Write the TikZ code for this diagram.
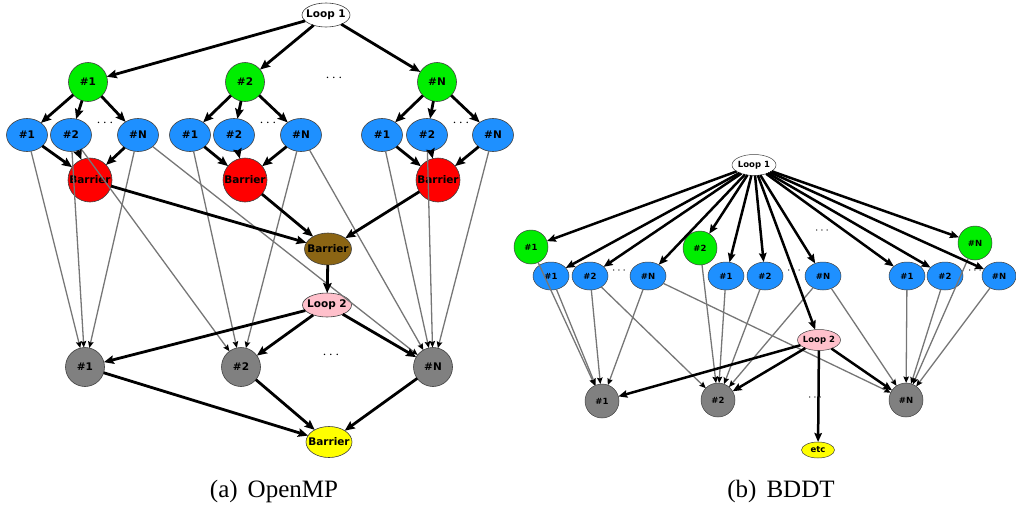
\documentclass[tikz,border=0pt]{standalone}
\usepackage{fontspec}
\setmainfont{Liberation Serif}
\setsansfont{DejaVu Sans}
\usetikzlibrary{arrows.meta,shapes.geometric}
\definecolor{gGreen}{RGB}{0,238,0}
\definecolor{gBlue}{RGB}{30,144,255}
\definecolor{gRed}{RGB}{255,0,0}
\definecolor{gBrown}{RGB}{139,101,20}
\definecolor{gPink}{RGB}{255,192,203}
\definecolor{gGray}{RGB}{128,128,128}
\definecolor{gYellow}{RGB}{255,255,0}
\definecolor{edgeGray}{RGB}{118,118,118}
\newcommand\nlab[1]{\makebox[0pt][c]{#1}}
\begin{document}
\begin{tikzpicture}[x=1pt,y=-1pt,
  every node/.style={inner sep=0pt,outer sep=0pt},
  lnode/.style={draw=black!75,line width=0.6pt,font=\sffamily\bfseries\fontsize{10.5}{12}\selectfont},
  rnode/.style={draw=black!75,line width=0.5pt,font=\sffamily\bfseries\fontsize{8.5}{10}\selectfont},
  lcirc/.style={lnode,circle,minimum size=39pt},
  lell/.style={lnode,ellipse,minimum width=41pt,minimum height=33pt,fill=gBlue},
  rcirc/.style={rnode,circle,minimum size=34pt},
  rell/.style={rnode,ellipse,minimum width=36pt,minimum height=28pt,fill=gBlue},
  dotsl/.style={font=\fontsize{15}{16}\selectfont},
  dotsr/.style={font=\fontsize{12}{13}\selectfont},
  thickl/.style={line width=2.8pt,-{Stealth[length=10pt,width=8.5pt,inset=1.5pt]}},
  thickr/.style={line width=2.5pt,-{Stealth[length=9pt,width=7.5pt,inset=1.3pt]}},
  thin/.style={draw=edgeGray,line width=1.3pt,-{Stealth[length=6.5pt,width=5.5pt,inset=1pt,color=black]}},
  caption/.style={font=\fontsize{25}{30}\selectfont}
]
\useasboundingbox (0,0) rectangle (1016,506);

% ---------------- Left graph (OpenMP) ----------------
\node[lnode,ellipse,minimum width=48pt,minimum height=24pt,fill=white] (L1) at (326,15) {\nlab{Loop 1}};
\node[lcirc,fill=gGreen] (G1) at (88,82) {\nlab{\#1}};
\node[lcirc,fill=gGreen] (G2) at (245,82) {\nlab{\#2}};
\node[lcirc,fill=gGreen] (GN) at (437,82) {\nlab{\#N}};
\node[dotsl] (dG) at (334,78) {$\cdots$};

\node[lell] (a1) at (27,135) {\nlab{\#1}};
\node[lell] (a2) at (71,135) {\nlab{\#2}};
\node[lell] (aN) at (138,135) {\nlab{\#N}};
\node[lell] (b1) at (190,135) {\nlab{\#1}};
\node[lell] (b2) at (234,135) {\nlab{\#2}};
\node[lell] (bN) at (301,135) {\nlab{\#N}};
\node[lell] (c1) at (382,135) {\nlab{\#1}};
\node[lell] (c2) at (427,135) {\nlab{\#2}};
\node[lell] (cN) at (493,135) {\nlab{\#N}};
\node[dotsl] (da) at (105,123) {$\cdots$};
\node[dotsl] (db) at (268,123) {$\cdots$};
\node[dotsl] (dc) at (461,123) {$\cdots$};

\node[lnode,circle,minimum size=44pt,fill=gRed] (R1) at (90,180) {\nlab{Barrier}};
\node[lnode,circle,minimum size=44pt,fill=gRed] (R2) at (245,180) {\nlab{Barrier}};
\node[lnode,circle,minimum size=44pt,fill=gRed] (R3) at (438,180) {\nlab{Barrier}};

\node[lnode,ellipse,minimum width=47pt,minimum height=32pt,fill=gBrown] (Br) at (328,249) {\nlab{Barrier}};
\node[lnode,ellipse,minimum width=49pt,minimum height=24pt,fill=gPink] (Lp2) at (327,305) {\nlab{Loop 2}};

\node[lcirc,fill=gGray] (K1) at (85,367) {\nlab{\#1}};
\node[lcirc,fill=gGray] (K2) at (241,367) {\nlab{\#2}};
\node[lcirc,fill=gGray] (KN) at (433,367) {\nlab{\#N}};
\node[dotsl] (dK) at (331,355) {$\cdots$};
\node[lnode,ellipse,minimum width=46pt,minimum height=31pt,fill=gYellow] (Y) at (329,442) {\nlab{Barrier}};

% thin edges
\draw[thin] (a1) -- (K1);
\draw[thin] (a2) -- (K1);
\draw[thin] (aN) -- (K1);
\draw[thin] (a2) -- (K2);
\draw[thin] (aN) -- (KN);
\draw[thin] (b1) -- (K2);
\draw[thin] (bN) -- (K2);
\draw[thin] (bN) -- (KN);
\draw[thin] (c1) -- (KN);
\draw[thin] (c2) -- (KN);
\draw[thin] (cN) -- (KN);

% thick edges
\foreach \t in {G1,G2,GN} \draw[thickl] (L1) -- (\t);
\foreach \t in {a1,a2,aN} {\draw[thickl] (G1) -- (\t); \draw[thickl] (\t) -- (R1);}
\foreach \t in {b1,b2,bN} {\draw[thickl] (G2) -- (\t); \draw[thickl] (\t) -- (R2);}
\foreach \t in {c1,c2,cN} {\draw[thickl] (GN) -- (\t); \draw[thickl] (\t) -- (R3);}
\foreach \s in {R1,R2,R3} \draw[thickl] (\s) -- (Br);
\draw[thickl] (Br) -- (Lp2);
\foreach \t in {K1,K2,KN} {\draw[thickl] (Lp2) -- (\t); \draw[thickl] (\t) -- (Y);}

% ---------------- Right graph (BDDT) ----------------
\node[rnode,ellipse,minimum width=44pt,minimum height=21pt,fill=white] (RL1) at (754,165) {\nlab{Loop 1}};
\node[rcirc,fill=gGreen] (RG1) at (531,247) {\nlab{\#1}};
\node[rcirc,fill=gGreen] (RG2) at (700,248) {\nlab{\#2}};
\node[rcirc,fill=gGreen] (RGN) at (975,243) {\nlab{\#N}};
\node[dotsr] (dRG) at (822,231) {$\cdots$};

\node[rell] (p1) at (551,276) {\nlab{\#1}};
\node[rell] (p2) at (590,276) {\nlab{\#2}};
\node[rell] (pN) at (648,276) {\nlab{\#N}};
\node[rell] (q1) at (726,276) {\nlab{\#1}};
\node[rell] (q2) at (765,276) {\nlab{\#2}};
\node[rell] (qN) at (823,276) {\nlab{\#N}};
\node[rell] (s1) at (907,276) {\nlab{\#1}};
\node[rell] (s2) at (945,276) {\nlab{\#2}};
\node[rell,minimum width=34pt] (sN) at (999,276) {\nlab{\#N}};
\node[dotsr] (dp) at (619,271) {$\cdots$};
\node[dotsr] (dq) at (794,271) {$\cdots$};
\node[dotsr] (ds) at (975,271) {$\cdots$};

\node[rnode,ellipse,minimum width=43pt,minimum height=21pt,fill=gPink] (RLp2) at (819,340) {\nlab{Loop 2}};
\node[rcirc,fill=gGray] (RK1) at (602,401) {\nlab{\#1}};
\node[rcirc,fill=gGray] (RK2) at (718,400) {\nlab{\#2}};
\node[rcirc,fill=gGray] (RKN) at (906,400) {\nlab{\#N}};
\node[dotsr] (dRK) at (815,398) {$\cdots$};
\node[rnode,ellipse,minimum width=33pt,minimum height=16pt,fill=gYellow] (etc) at (818,450) {\nlab{etc}};

% thin edges
\foreach \s in {RG1,p1,p2,pN} \draw[thin] (\s) -- (RK1);
\draw[thin] (p2) -- (RK2);
\draw[thin] (pN) -- (RKN);
\foreach \s in {RG2,q1,q2,qN} \draw[thin] (\s) -- (RK2);
\draw[thin] (qN) -- (RKN);
\foreach \s in {RGN,s1,s2,sN} \draw[thin] (\s) -- (RKN);

% thick edges
\foreach \t in {RG1,p1,p2,pN,RG2,q1,q2,RLp2,qN,s1,s2,RGN,sN} \draw[thickr] (RL1) -- (\t);
\foreach \t in {RK1,RK2,RKN,etc} \draw[thickr] (RLp2) -- (\t);

% captions
\node[caption] (capA) at (274,491) {(a)\hspace{0.4em}OpenMP};
\node[caption] (capB) at (781,491) {(b)\hspace{0.4em}BDDT};
\end{tikzpicture}
\end{document}
